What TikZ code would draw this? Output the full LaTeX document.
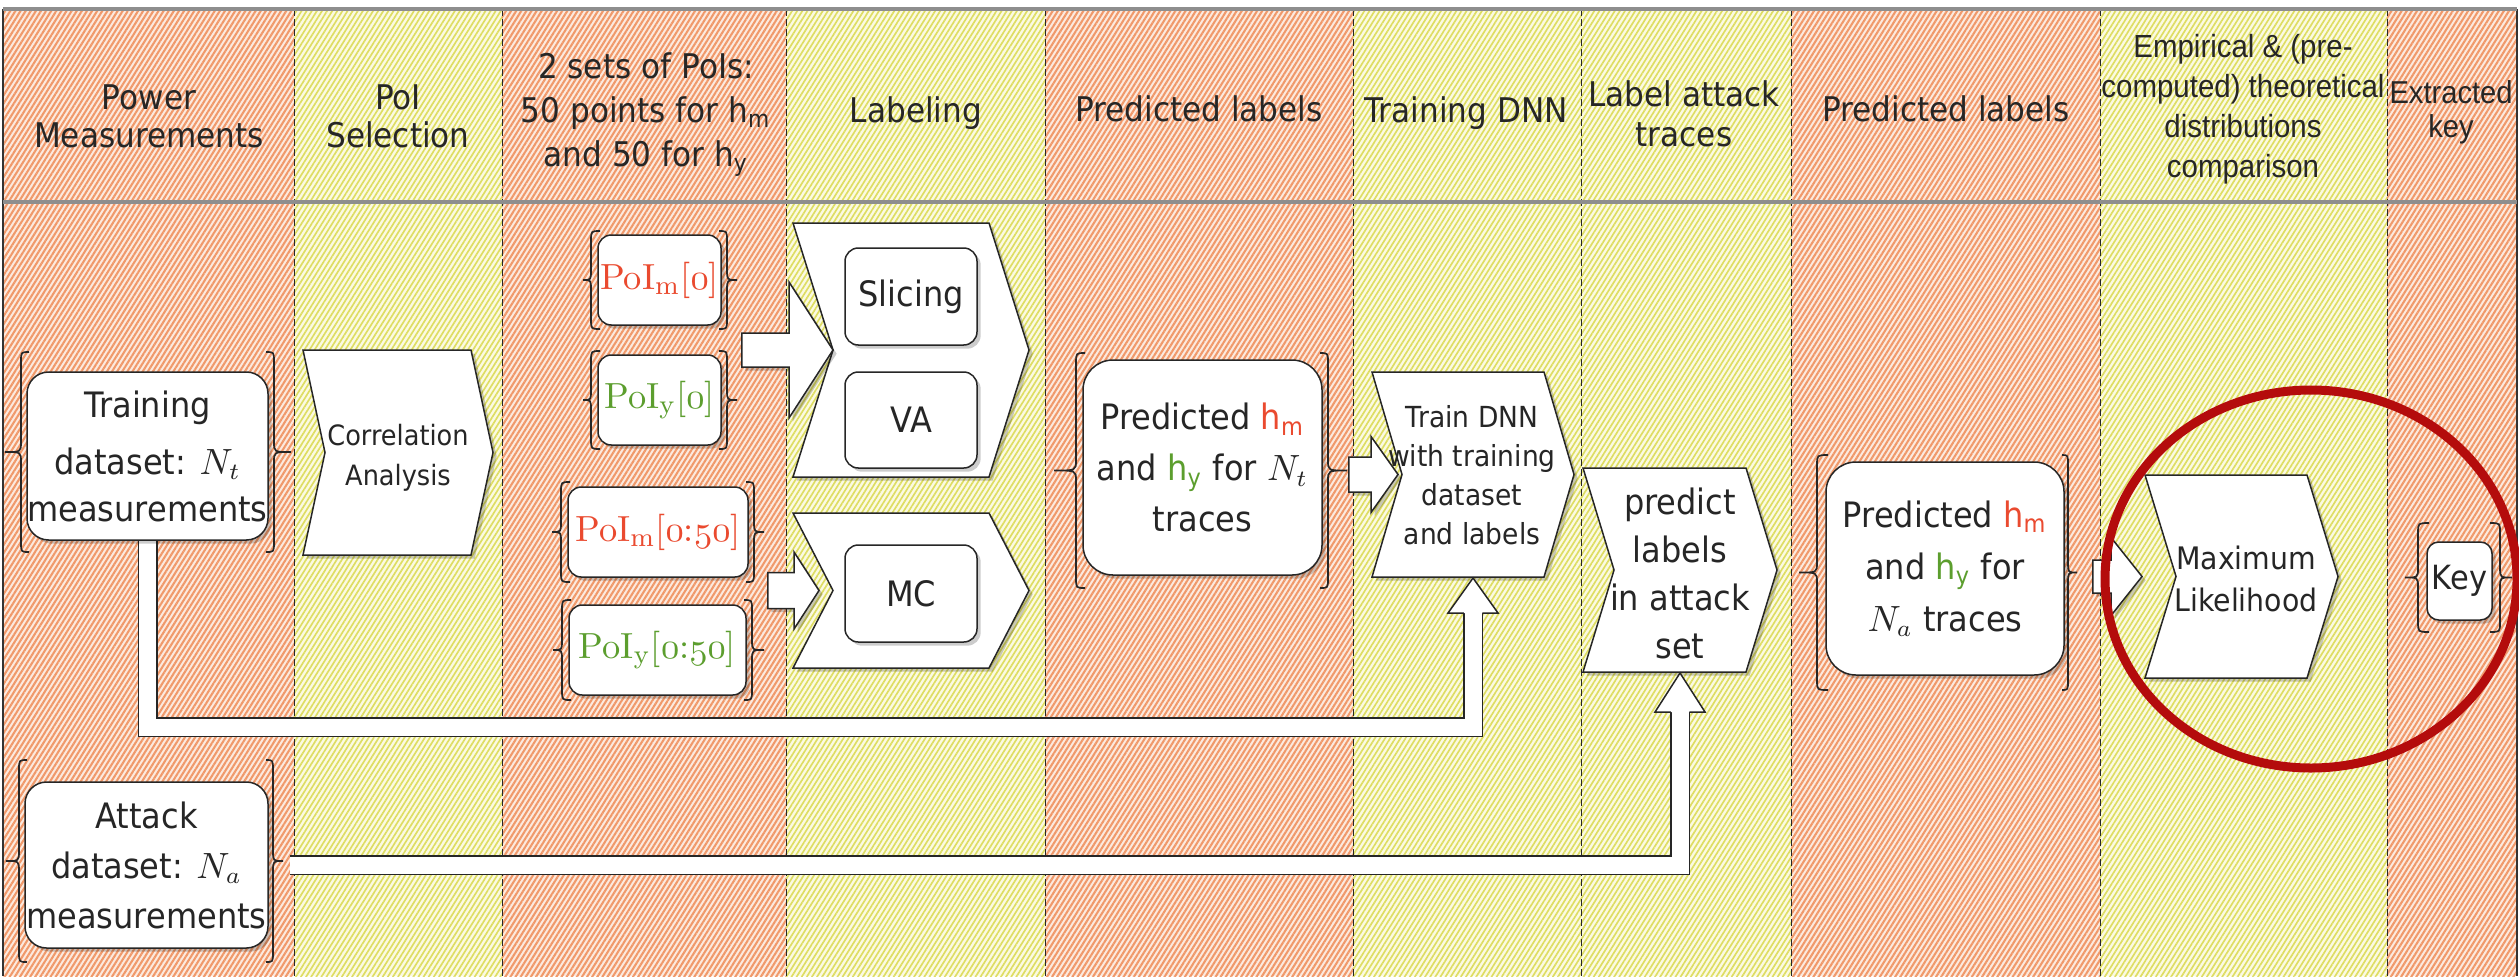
\documentclass[tikz,border=0pt]{standalone}
\usepackage[no-math]{fontspec}
\setmainfont{DejaVu Sans}[FakeStretch=0.915]
\newfontfamily\arialf{Liberation Sans}[FakeStretch=0.92]
\newfontfamily\lmfont{lmroman10-regular}[Extension=.otf]
\usetikzlibrary{calc,patterns.meta,shadows}

\definecolor{orgline}{HTML}{F0996A}
\definecolor{orgbg}{HTML}{FCEADF}
\definecolor{yelline}{HTML}{DEDD62}
\definecolor{yelbg}{HTML}{FBFAE2}
\definecolor{ink}{HTML}{262626}
\definecolor{hred}{HTML}{EA4A2F}
\definecolor{hgreen}{HTML}{5C9E2E}
\definecolor{ringred}{HTML}{B40C0C}
\definecolor{rulegrey}{HTML}{8E8E8E}

\newcommand\pxu{0.3pt}
% PoI label with a serif face and old-style figures
\newcommand\poi[2]{{\lmfont PoI$_{\mathrm{#1}}$[#2]}}
\newcommand\osf[1]{$\mathnormal{#1}$}
% curly bracket: hook x, straight x, tip x, top y, bottom y
\newcommand\curly[5]{\draw[brc] (#1,#4) .. controls (#2,#4) .. (#2,{#4+10})
  -- (#2,{(#4+#5)/2-10}) .. controls (#2,{(#4+#5)/2}) .. (#3,{(#4+#5)/2})
  .. controls (#2,{(#4+#5)/2}) .. (#2,{(#4+#5)/2+10})
  -- (#2,{#5-10}) .. controls (#2,#5) .. (#1,#5);}
% step shape: name, left x, right x, top y, bottom y, notch depth
\newcommand\chev[6]{%
  \path[chevshape] (#2,#4) -- (#3,#4) -- ({#3+#6},{(#4+#5)/2}) -- (#3,#5)
    -- (#2,#5) -- ({#2+#6},{(#4+#5)/2}) -- cycle;
  \coordinate (#1-in) at ({#2+#6},{(#4+#5)/2});
  \coordinate (#1-s) at ({(#2+#3+#6)/2},#5);}
% horizontal block arrow: from, tip, shaft half width, head half width, head length
\newcommand\fatarrow[5]{\path[fat] let \p1=(#1), \p2=(#2) in
  ({\x1},{\y2+#3}) -- ({\x2-#5},{\y2+#3}) -- ({\x2-#5},{\y2+#4}) -- (\p2)
  -- ({\x2-#5},{\y2-#4}) -- ({\x2-#5},{\y2-#3}) -- ({\x1},{\y2-#3}) -- cycle;}

\begin{document}
\begin{tikzpicture}[x=0.3pt,y=-0.3pt,
  lane-org/.style={fill=orgbg},
  hatch-org/.style={pattern={Lines[angle=58,distance=1.3pt,line width=0.62pt]},pattern color=orgline},
  lane-yel/.style={fill=yelbg},
  hatch-yel/.style={pattern={Lines[angle=58,distance=1.3pt,line width=0.5pt]},pattern color=yelline},
  sep/.style={draw=black!85,line width=0.3pt,dash pattern=on 2pt off 1pt},
  hdrrule/.style={draw=rulegrey,line width=1pt},
  frame/.style={draw=black!80,line width=0.4pt},
  shade/.style={drop shadow={shadow xshift=1.1pt,shadow yshift=-1.1pt,opacity=0.2,fill=black}},
  rbox/.style={draw=ink,fill=white,line width=0.45pt,rounded corners=6.5pt,inner sep=0pt,align=center,text=ink,shade},
  sbox/.style={rbox,rounded corners=4pt},
  pbox/.style={rbox,rounded corners=9pt},
  chevshape/.style={draw=ink,fill=white,line width=0.45pt,shade},
  brc/.style={draw=ink,line width=0.5pt},
  fat/.style={draw=ink,fill=white,line width=0.45pt,shade},
  fatshaft/.style={draw=ink,line width=0.45pt,double=white,double distance=17*\pxu},
  fathead/.style={draw=ink,fill=white,line width=0.45pt},
  hdr/.style={font=\fontsize{10.2pt}{11.4pt}\selectfont,align=center,inner sep=0pt,text=ink},
  hdra/.style={font=\arialf\fontsize{9.6pt}{12pt}\selectfont,align=center,inner sep=0pt,text=ink},
  body/.style={font=\fontsize{10.5pt}{15pt}\selectfont},
  txt/.style={align=center,inner sep=0pt,text=ink},
  poifont/.style={font=\fontsize{10.9pt}{13pt}\selectfont},
  ring/.style={draw=ringred,line width=2.7pt}]

\useasboundingbox (0,0) rectangle (2519,976);
\fill[white] (0,0) rectangle (2519,976);

% swim lanes
\foreach \xa/\xb/\kind in {3/294/org,294/502/yel,502/786/org,786/1045/yel,1045/1353/org,
    1353/1581/yel,1581/1791/yel,1791/2100/org,2100/2387/yel,2387/2517/org}{
  \fill[lane-\kind] (\xa,9) rectangle (\xb,976);
  \fill[hatch-\kind] (\xa,9) rectangle (\xb,976);
}
\foreach \x in {294,502,786,1045,1353,1581,1791,2100,2387}
  \draw[sep] (\x,9) -- (\x,976);
\draw[frame] (3,976) -- (3,9);
\draw[frame] (2517,9) -- (2517,976);
\draw[hdrrule] (3,9) -- (2517,9);
\draw[hdrrule] (3,202) -- (2517,202);

% lane titles
\node[hdr] (h1) at (149,116.6) {Power\\Measurements};
\node[hdr] (h2) at (398,116.6) {PoI\\Selection};
\node[hdr,font=\fontsize{10.2pt}{13.2pt}\selectfont] (h3) at (646,115)
  {2 sets of PoIs:\\50 points for h\textsubscript{m}\\and 50 for h\textsubscript{y}};
\node[hdr] (h4) at (916,113.1) {Labeling};
\node[hdr] (h5) at (1199,109.1) {Predicted labels};
\node[hdr] (h6) at (1466,113.1) {Training DNN};
\node[hdr,font=\fontsize{10.2pt}{12pt}\selectfont] (h7) at (1684,114.1) {Label attack\\traces};
\node[hdr] (h8) at (1946,109.1) {Predicted labels};
\node[hdra] (h9) at (2243,109.4) {Empirical \& (pre-\\computed) theoretical\\distributions\\comparison};
\node[hdra,font=\arialf\fontsize{9.5pt}{10.2pt}\selectfont] (h10) at (2451,111.9) {Extracted\\key};

% block arrows with elbows (drawn first, boxes sit on top)
\coordinate (rail-train) at (0,727);
\coordinate (attack-out) at (290,865);
\chev{dnnp}{1372}{1544}{372}{577}{30}
\chev{prdp}{1583}{1746}{468}{672}{31}
\draw[fatshaft] (147.5,540) |- (rail-train -| dnnp-s) -- ($(dnnp-s)+(0,36)$);
\draw[fathead] ($(dnnp-s)+(-9.25,36)$) -- ($(dnnp-s)+(-25,36)$) -- ($(dnnp-s)+(0,1)$)
  -- ($(dnnp-s)+(25,36)$) -- ($(dnnp-s)+(9.25,36)$);
\draw[fatshaft] (attack-out) -- (attack-out -| prdp-s) -- ($(prdp-s)+(0,40)$);
\draw[fathead] ($(prdp-s)+(-9.25,40)$) -- ($(prdp-s)+(-25,40)$) -- ($(prdp-s)+(0,1)$)
  -- ($(prdp-s)+(25,40)$) -- ($(prdp-s)+(9.25,40)$);

% measurements
\node[rbox,body,font=\fontsize{10.5pt}{14.1pt}\selectfont,minimum width=241*\pxu,minimum height=168*\pxu]
  (train) at (147.5,456) {Training\\[3pt]dataset: $N_t$\\measurements};
\curly{29}{21}{5}{352}{552}
\curly{266}{274}{291}{352}{552}
\node[rbox,body,minimum width=243*\pxu,minimum height=166*\pxu]
  (attack) at (146.5,865) {Attack\\dataset: $N_a$\\measurements};
\curly{27}{19}{6}{760}{962}
\curly{266}{273}{283}{760}{962}

% correlation analysis
\chev{corp}{303}{471}{350}{555}{22}
\node[txt,font=\fontsize{8.4pt}{12pt}\selectfont] (cor) at (398,458) {Correlation\\Analysis};

% points of interest
\node[sbox,poifont,text=hred,minimum width=123*\pxu,minimum height=90*\pxu]
  (poim0) at (659.5,280) {\poi{m}{\osf{0}}};
\node[sbox,poifont,text=hgreen,minimum width=123*\pxu,minimum height=90*\pxu]
  (poiy0) at (659.5,400) {\poi{y}{\osf{0}}};
\node[sbox,poifont,text=hred,minimum width=180*\pxu,minimum height=90*\pxu]
  (poim50) at (658,532) {\poi{m}{\osf{0}:\osf{50}}};
\node[sbox,poifont,text=hgreen,minimum width=177*\pxu,minimum height=90*\pxu]
  (poiy50) at (657.5,650) {\poi{y}{\osf{0}:\osf{50}}};
\curly{600}{591}{583}{231}{329}
\curly{719}{727}{737}{231}{329}
\curly{600}{591}{583}{351}{449}
\curly{719}{727}{737}{351}{449}
\curly{570}{561}{552}{482}{582}
\curly{746}{754}{764}{482}{582}
\curly{571}{562}{553}{600}{700}
\curly{744}{752}{764}{600}{700}

% labeling methods
\chev{slvp}{793}{989}{223}{477}{40}
\chev{mcp}{793}{989}{513}{668}{40}
\node[sbox,body,minimum width=132*\pxu,minimum height=97*\pxu] (slicing) at (911,296.5) {Slicing};
\node[sbox,body,minimum width=132*\pxu,minimum height=96*\pxu] (va) at (911,420) {VA};
\node[sbox,body,minimum width=132*\pxu,minimum height=97*\pxu] (mc) at (911,593.5) {MC};
\coordinate (poi0-out) at ($(poim0.east)!0.5!(poiy0.east)+(20,0)$);
\coordinate (poi50-out) at ($(poim50.east)!0.5!(poiy50.east)+(20,0)$);
\fatarrow{poi0-out}{slvp-in}{5.1pt}{20.4pt}{13.2pt}
\fatarrow{poi50-out}{$(mcp-in)+(-14,0)$}{5.4pt}{11.55pt}{7.5pt}

% labels predicted for the training traces
\node[pbox,body,font=\fontsize{10.5pt}{15.3pt}\selectfont,minimum width=239*\pxu,minimum height=215*\pxu]
  (prednt) at (1202.5,467.5)
  {Predicted \textcolor{hred}{h\textsubscript{m}}\\and \textcolor{hgreen}{h\textsubscript{y}} for $N_t$\\traces};
\curly{1085}{1076}{1054}{353}{588}
\curly{1320}{1328}{1347}{353}{588}

% network training
\node[txt,font=\fontsize{8.7pt}{11.7pt}\selectfont] (dnn) at (1472,475.5)
  {Train DNN\\with training\\dataset\\and labels};
\coordinate (prednt-out) at ($(prednt.east)+(26,0)$);
\fatarrow{prednt-out}{$(dnnp-in)+(-4,0)$}{5.25pt}{11.4pt}{8.1pt}

% attack traces
\node[txt,font=\fontsize{10.5pt}{14.4pt}\selectfont] (prd) at (1680,573.7) {predict\\labels\\in attack\\set};

\node[pbox,body,font=\fontsize{10.5pt}{15.6pt}\selectfont,minimum width=238*\pxu,minimum height=213*\pxu]
  (predna) at (1945,568.5)
  {Predicted \textcolor{hred}{h\textsubscript{m}}\\and \textcolor{hgreen}{h\textsubscript{y}} for\\$N_a$ traces};
\curly{1828}{1817}{1799}{455}{690}
\curly{2062}{2068}{2077}{455}{690}

% distribution comparison
\chev{mlhp}{2145}{2307}{475}{678}{31}
\node[txt,font=\fontsize{9.3pt}{12.6pt}\selectfont] (mlh) at (2246,578.7) {Maximum\\Likelihood};
\coordinate (predna-out) at ($(predna.east)+(28,0)$);
\fatarrow{predna-out}{$(mlhp-in)+(-34,0)$}{4.95pt}{11.7pt}{9.3pt}

% extracted key
\node[sbox,font=\fontsize{10pt}{12pt}\selectfont,rounded corners=3.5pt,minimum width=65*\pxu,minimum height=78*\pxu]
  (key) at (2459.5,581) {Key};
\curly{2429}{2418}{2405}{523}{632}
\curly{2490}{2500}{2512}{523}{632}

% highlight ring
\coordinate (ringc) at (2311,579);
\draw[ring] (ringc) ellipse [x radius=61.8pt,y radius=56.7pt];
\end{tikzpicture}
\end{document}
